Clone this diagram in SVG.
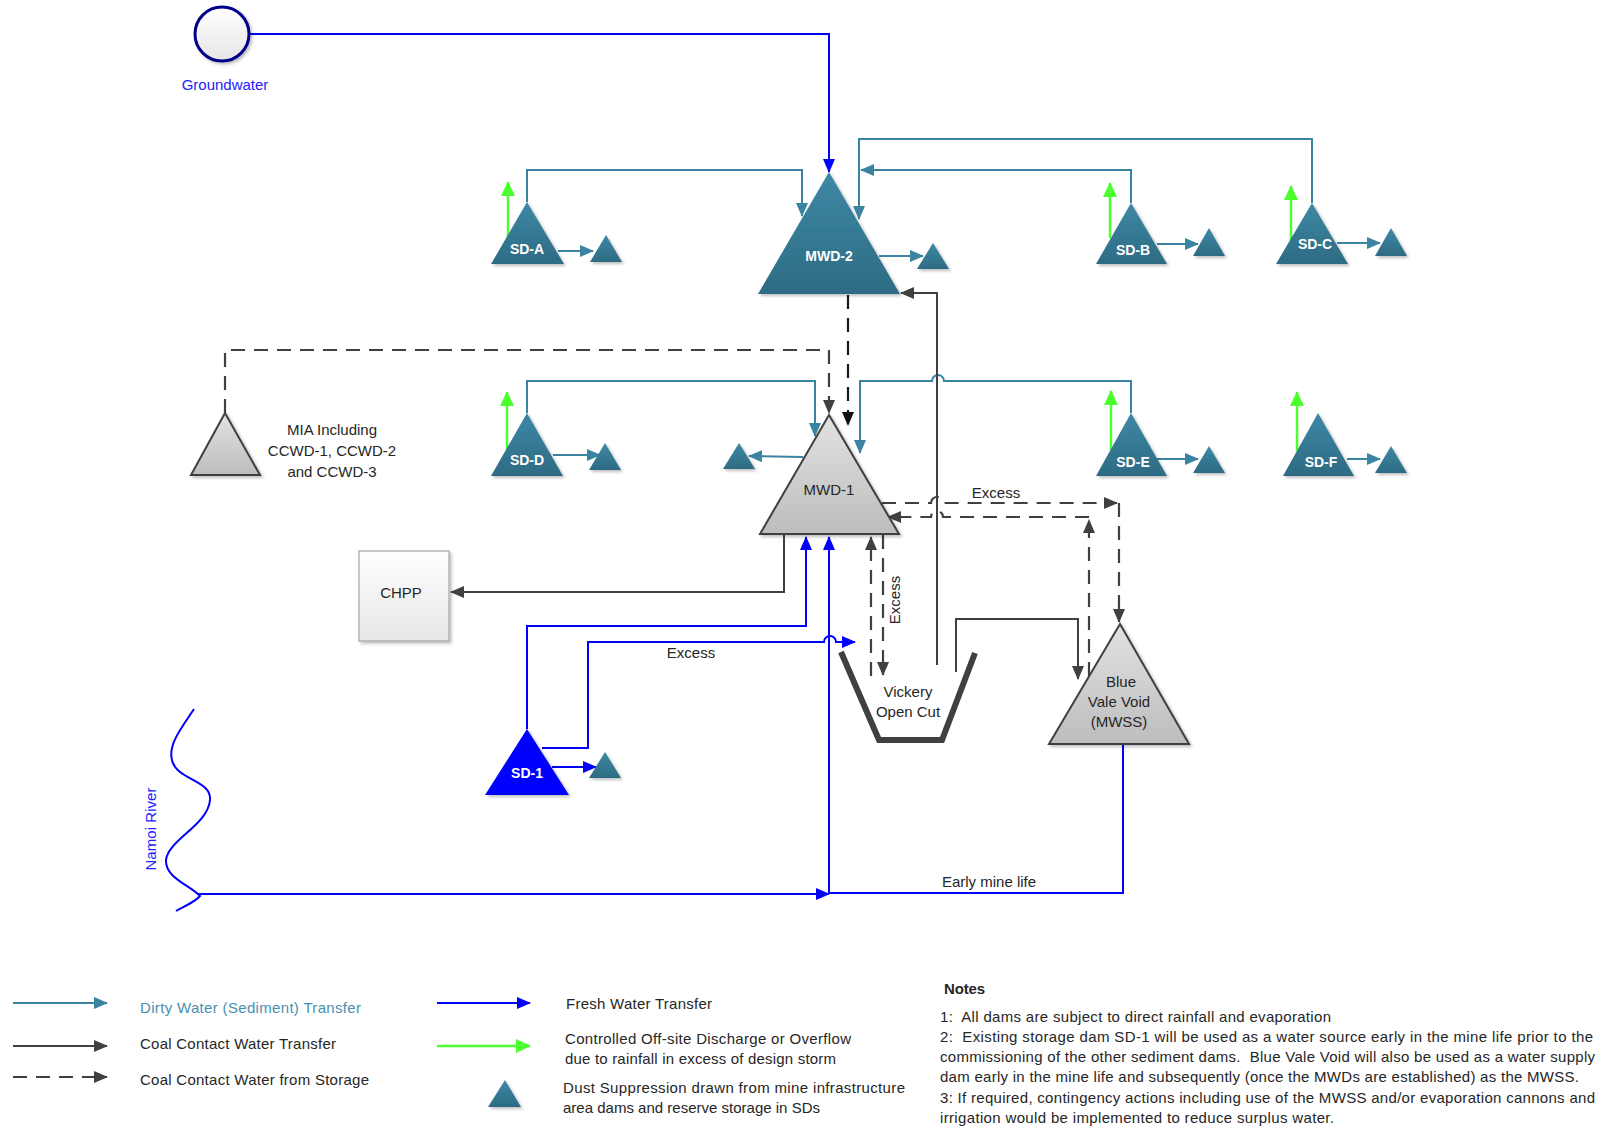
<svg xmlns="http://www.w3.org/2000/svg" width="1607" height="1129" viewBox="0 0 1607 1129">
<style>
.teal{stroke:#3a83a1;stroke-width:2;fill:none}
.blue{stroke:#0000ff;stroke-width:2;fill:none}
.green{stroke:#4cff2e;stroke-width:2.5;fill:none}
.dark{stroke:#404040;stroke-width:2;fill:none}
.dash{stroke:#404040;stroke-width:2.2;fill:none;stroke-dasharray:14 9}
.dashk{stroke:#1a1a1a;stroke-width:2.2;fill:none;stroke-dasharray:14 9}
.tt{fill:url(#gT);filter:url(#sh)}
.gt{fill:url(#gG);stroke:#404040;stroke-width:2;filter:url(#sh)}
.lbl{font-family:"Liberation Sans",Arial,sans-serif;fill:#262626;font-size:15px}
.wl{font-family:"Liberation Sans",Arial,sans-serif;fill:#ffffff;font-weight:bold;font-size:14px}
.mid{text-anchor:middle}
</style>
<defs>
<linearGradient id="gT" x1="0" y1="0" x2="0" y2="1"><stop offset="0" stop-color="#3e88a5"/><stop offset="1" stop-color="#2d6b83"/></linearGradient>
<linearGradient id="gG" x1="0" y1="0" x2="0" y2="1"><stop offset="0" stop-color="#e2e2e2"/><stop offset="1" stop-color="#bdbdbd"/></linearGradient>
<linearGradient id="gW" x1="0" y1="0" x2="0" y2="1"><stop offset="0" stop-color="#ffffff"/><stop offset="1" stop-color="#e6e6e6"/></linearGradient>
<filter id="sh" x="-20%" y="-20%" width="140%" height="140%"><feDropShadow dx="2" dy="2" stdDeviation="1.5" flood-color="#000" flood-opacity="0.25"/></filter>
<marker id="aT" viewBox="0 0 14 12" refX="13" refY="6" markerWidth="14" markerHeight="12" orient="auto" markerUnits="userSpaceOnUse"><path d="M0,0L14,6L0,12z" fill="#3a83a1"/></marker>
<marker id="aB" viewBox="0 0 14 12" refX="13" refY="6" markerWidth="14" markerHeight="12" orient="auto" markerUnits="userSpaceOnUse"><path d="M0,0L14,6L0,12z" fill="#0000ff"/></marker>
<marker id="aG" viewBox="0 0 15 14" refX="14" refY="7" markerWidth="15" markerHeight="14" orient="auto" markerUnits="userSpaceOnUse"><path d="M0,0L15,7L0,14z" fill="#4cff2e"/></marker>
<marker id="aD" viewBox="0 0 14 12" refX="13" refY="6" markerWidth="14" markerHeight="12" orient="auto" markerUnits="userSpaceOnUse"><path d="M0,0L14,6L0,12z" fill="#404040"/></marker>
<marker id="aK" viewBox="0 0 14 12" refX="13" refY="6" markerWidth="14" markerHeight="12" orient="auto" markerUnits="userSpaceOnUse"><path d="M0,0L14,6L0,12z" fill="#111111"/></marker>
</defs>

<g id="connectors">
  <path class="blue" d="M250,34 H829 V172" marker-end="url(#aB)"/>
  <path class="teal" d="M527,202 V170 H802 V216" marker-end="url(#aT)"/>
  <path class="teal" d="M1131,203 V170 H861" marker-end="url(#aT)"/>
  <path class="teal" d="M1312,203 V139 H859 V219" marker-end="url(#aT)"/>
  <path class="teal" d="M527,413 V381 H815 V436" marker-end="url(#aT)"/>
  <path class="teal" d="M1131,413 V381 H944 A6,6 0 0 0 932,381 H860 V453" marker-end="url(#aT)"/>
  <path class="teal" d="M558,251 H593" marker-end="url(#aT)"/>
  <path class="teal" d="M879,256 H923" marker-end="url(#aT)"/>
  <path class="teal" d="M1157,244 H1198" marker-end="url(#aT)"/>
  <path class="teal" d="M1337,243 H1380" marker-end="url(#aT)"/>
  <path class="teal" d="M553,455 H600" marker-end="url(#aT)"/>
  <path class="teal" d="M803,457 L749,456" marker-end="url(#aT)"/>
  <path class="teal" d="M1157,459 H1198" marker-end="url(#aT)"/>
  <path class="teal" d="M1347,459 H1380" marker-end="url(#aT)"/>
  <path class="blue" d="M552,767 H596" marker-end="url(#aB)"/>
  <path class="green" d="M508,241 V182" marker-end="url(#aG)"/>
  <path class="green" d="M1110,238 V183" marker-end="url(#aG)"/>
  <path class="green" d="M1291,246 V186" marker-end="url(#aG)"/>
  <path class="green" d="M507,451 V392" marker-end="url(#aG)"/>
  <path class="green" d="M1111,450 V391" marker-end="url(#aG)"/>
  <path class="green" d="M1297,451 V392" marker-end="url(#aG)"/>
  <path class="dark" d="M937,665 V293 H901" marker-end="url(#aD)"/>
  <path class="dark" d="M784,534 V592 H451" marker-end="url(#aD)"/>
  <path class="dark" d="M956,672 V619 H1078 V679" marker-end="url(#aD)"/>
  <path class="dash" d="M225,413 V350 H829 V413" marker-end="url(#aD)"/>
  <path class="dashk" d="M848,295 V425" marker-end="url(#aK)"/>
  <path class="dash" d="M882,503 H931 A6,6 0 0 1 943,503 H1117" marker-end="url(#aD)"/>
  <path class="dash" d="M1119,503 V622" marker-end="url(#aD)"/>
  <path class="dash" d="M1089,676 V520" marker-end="url(#aD)"/>
  <path class="dash" d="M1089,517 H943 A6,6 0 0 0 931,517 H888" marker-end="url(#aD)"/>
  <path class="dash" d="M871,676 V537" marker-end="url(#aD)"/>
  <path class="dash" d="M883,535 V675" marker-end="url(#aD)"/>
  <path class="blue" d="M527,729 V626 H806 V537" marker-end="url(#aB)"/>
  <path class="blue" d="M542,748 H588 V642 H824 A6,6 0 0 1 836,642 H855" marker-end="url(#aB)"/>
  <path class="blue" d="M198,894 H829" marker-end="url(#aB)"/>
  <path class="blue" d="M829,894 V537" marker-end="url(#aB)"/>
  <path class="blue" d="M1123,744 V893 H829"/>
  <text class="lbl mid" x="996" y="498" font-size="14">Excess</text>
  <text class="lbl mid" x="691" y="658" font-size="14">Excess</text>
  <text class="lbl mid" transform="rotate(-90 900 600)" x="900" y="600" font-size="14">Excess</text>
  <text class="lbl mid" x="989" y="887">Early mine life</text>
</g>

<g id="groundwater">
  <circle cx="222" cy="34" r="27" fill="url(#gW)" stroke="#00008b" stroke-width="3" filter="url(#sh)"/>
  <text class="lbl mid" x="225" y="90" font-size="15.5" style="fill:#2222ff">Groundwater</text>
</g>
<g id="namoi-river">
  <path d="M194,709 C180,730 168,745 172,760 C176,780 212,780 210,800 C208,825 168,840 166,860 C165,878 190,885 200,896 C195,902 185,906 176,911" fill="none" stroke="#0000ff" stroke-width="2"/>
  <text class="lbl mid" transform="rotate(-90 156 829)" x="156" y="829" font-size="14" style="fill:#2222ff" textLength="83">Namoi River</text>
</g>

<g id="mwd-2">
  <polygon class="tt" points="829,172 758,294 900,294"/>
  <text class="wl mid" x="829" y="261" font-size="16">MWD-2</text>
</g>
<g id="sd-a">
  <polygon class="tt" points="527,202 491,264 564,264"/>
  <text class="wl mid" x="527" y="254">SD-A</text>
</g>
<g id="sd-b">
  <polygon class="tt" points="1131,203 1096,264 1167,264"/>
  <text class="wl mid" x="1133" y="255">SD-B</text>
</g>
<g id="sd-c">
  <polygon class="tt" points="1312,203 1276,264 1348,264"/>
  <text class="wl mid" x="1315" y="249">SD-C</text>
</g>
<g id="sd-d">
  <polygon class="tt" points="527,413 491,476 563,476"/>
  <text class="wl mid" x="527" y="465">SD-D</text>
</g>
<g id="sd-e">
  <polygon class="tt" points="1131,413 1096,476 1167,476"/>
  <text class="wl mid" x="1133" y="467">SD-E</text>
</g>
<g id="sd-f">
  <polygon class="tt" points="1318,413 1283,476 1354,476"/>
  <text class="wl mid" x="1321" y="467">SD-F</text>
</g>
<g id="sd-1">
  <polygon points="527,729 485,795 569,795" fill="#0000ff" filter="url(#sh)"/>
  <text class="wl mid" x="527" y="778">SD-1</text>
</g>
<g id="dust-triangles">
  <polygon class="tt" points="606,235 590,262 622,262"/>
  <polygon class="tt" points="933,243 917,269 949,269"/>
  <polygon class="tt" points="1209,228 1193,256 1225,256"/>
  <polygon class="tt" points="1391,228 1375,256 1407,256"/>
  <polygon class="tt" points="605,443 589,470 621,470"/>
  <polygon class="tt" points="739,443 723,469 755,469"/>
  <polygon class="tt" points="1209,446 1193,473 1225,473"/>
  <polygon class="tt" points="1391,446 1375,473 1407,473"/>
  <polygon class="tt" points="605,752 589,778 621,778"/>
</g>
<g id="mia">
  <polygon class="gt" points="225,413 191,475 260,475"/>
  <text class="lbl mid" x="332" y="435" font-size="14.5">MIA Including</text>
  <text class="lbl mid" x="332" y="456" font-size="14.5">CCWD-1, CCWD-2</text>
  <text class="lbl mid" x="332" y="477" font-size="14.5">and CCWD-3</text>
</g>
<g id="mwd-1">
  <polygon class="gt" points="829,415 760,534 899,534"/>
  <text class="lbl mid" x="829" y="495" font-size="15.5">MWD-1</text>
</g>
<g id="chpp">
  <rect x="359" y="551" width="90" height="90" fill="url(#gW)" stroke="#a6a6a6" stroke-width="1.2" filter="url(#sh)"/>
  <text class="lbl mid" x="401" y="598" font-size="13.5">CHPP</text>
</g>
<g id="vickery-open-cut">
  <polyline points="841,652 879,740 942,740 975,653" fill="none" stroke="#404040" stroke-width="6" stroke-linejoin="miter"/>
  <text class="lbl mid" x="908" y="697">Vickery</text>
  <text class="lbl mid" x="908" y="717">Open Cut</text>
</g>
<g id="blue-vale-void">
  <polygon class="gt" points="1120,624 1049,744 1189,744"/>
  <text class="lbl mid" x="1121" y="687">Blue</text>
  <text class="lbl mid" x="1119" y="707">Vale Void</text>
  <text class="lbl mid" x="1119" y="727">(MWSS)</text>
</g>

<g id="legend">
  <path class="teal" d="M13,1003 H107" marker-end="url(#aT)"/>
  <text class="lbl" x="140" y="1013" style="fill:#4a8fb2" textLength="221">Dirty Water (Sediment) Transfer</text>
  <path class="dark" d="M13,1046 H107" marker-end="url(#aD)"/>
  <text class="lbl" x="140" y="1049" textLength="196">Coal Contact Water Transfer</text>
  <path class="dash" d="M13,1077 H107" marker-end="url(#aD)"/>
  <text class="lbl" x="140" y="1085" textLength="229">Coal Contact Water from Storage</text>
  <path class="blue" d="M437,1003 H530" marker-end="url(#aB)"/>
  <text class="lbl" x="566" y="1009" textLength="146">Fresh Water Transfer</text>
  <path class="green" d="M437,1046 H530" marker-end="url(#aG)"/>
  <text class="lbl" x="565" y="1044" textLength="286">Controlled Off-site Discharge or Overflow</text>
  <text class="lbl" x="565" y="1064" textLength="271">due to rainfall in excess of design storm</text>
  <polygon class="tt" points="505,1080 488,1107 521,1107"/>
  <text class="lbl" x="563" y="1093" textLength="342">Dust Suppression drawn from mine infrastructure</text>
  <text class="lbl" x="563" y="1113" textLength="257">area dams and reserve storage in SDs</text>
</g>

<g id="notes">
  <text class="lbl" x="944" y="994" font-weight="bold" textLength="41">Notes</text>
  <text class="lbl" x="940" y="1022" xml:space="preserve" textLength="391">1:  All dams are subject to direct rainfall and evaporation</text>
  <text class="lbl" x="940" y="1042" xml:space="preserve" textLength="653">2:  Existing storage dam SD-1 will be used as a water source early in the mine life prior to the</text>
  <text class="lbl" x="940" y="1062" xml:space="preserve" textLength="655">commissioning of the other sediment dams.  Blue Vale Void will also be used as a water supply</text>
  <text class="lbl" x="940" y="1082" textLength="639">dam early in the mine life and subsequently (once the MWDs are established) as the MWSS.</text>
  <text class="lbl" x="940" y="1103" textLength="655">3: If required, contingency actions including use of the MWSS and/or evaporation cannons and</text>
  <text class="lbl" x="940" y="1123" textLength="394">irrigation would be implemented to reduce surplus water.</text>
</g>
</svg>
